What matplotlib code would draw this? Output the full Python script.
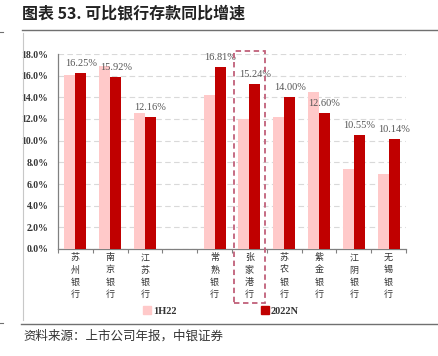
import numpy as np
import matplotlib
matplotlib.use("Agg")
import matplotlib.pyplot as plt
from matplotlib.patches import Rectangle
from matplotlib.lines import Line2D

plt.rcParams['font.family'] = ['Liberation Serif', 'Noto Sans CJK SC', 'DejaVu Sans']

categories = ['苏州银行', '南京银行', '江苏银行', '', '常熟银行', '张家港行', '苏农银行', '紫金银行', '江阴银行', '无锡银行']
h1_22 = [16.10, 16.90, 12.55, np.nan, 14.20, 12.00, 12.20, 14.50, 7.40, 6.95]
y2022 = [16.25, 15.92, 12.16, np.nan, 16.81, 15.24, 14.00, 12.60, 10.55, 10.14]
series_names = ['1H22', '2022N']
yticks = [0, 2, 4, 6, 8, 10, 12, 14, 16, 18]
highlight = '张家港行'

light = '#FFC9C9'
dark = '#C00000'

fig = plt.figure(figsize=(4.38, 3.56), dpi=100)
ax = fig.add_axes([58/438, 1-249/356, 348/438, 195/356])

x = np.arange(len(categories))
w = 0.316
ax.bar(x - w/2, h1_22, width=w, color=light, label=series_names[0], zorder=3)
ax.bar(x + w/2, y2022, width=w, color=dark, label=series_names[1], zorder=3)

for xi, v in zip(x, y2022):
    if np.isnan(v):
        continue
    ax.annotate(f'{v:.2f}%', (xi + w/2, v), xytext=(0, 3.5), textcoords='offset points',
                ha='center', va='bottom', fontsize=7.5, color='#555555',
                family=['Liberation Serif'], zorder=5)

ax.set_xlim(-0.5, len(categories) - 0.5)
ax.set_ylim(0, 18)
ax.set_yticks(yticks)
ax.set_yticklabels([f'{t:.1f}%' for t in yticks], fontsize=7, fontweight='bold', color='#333333')
ax.tick_params(axis='y', length=0, pad=7)
ax.yaxis.grid(True, color='#D9D9D9', linestyle=(0, (5, 3)), linewidth=0.8, zorder=0)
ax.set_axisbelow(True)

ax.set_xticks(x)
ax.set_xticklabels([])
ax.tick_params(axis='x', which='major', length=0)
ax.set_xticks(np.arange(-0.5, len(categories)), minor=True)
ax.tick_params(axis='x', which='minor', length=3, color='#808080', width=0.8)

for xi, c in zip(x, categories):
    if not c:
        continue
    ax.text(xi, -0.022, '\n'.join(c), transform=ax.get_xaxis_transform(), ha='center', va='top',
            fontsize=6.5, color='#333333', linespacing=1.45,
            family=['Noto Sans CJK SC'])

for s in ['top', 'right']:
    ax.spines[s].set_visible(False)
for s in ['left', 'bottom']:
    ax.spines[s].set_color('#808080')
    ax.spines[s].set_linewidth(0.9)

# highlight box
hi = categories.index(highlight)
rect = Rectangle((hi - 0.455, -0.277), 0.91, 1.015 + 0.277, transform=ax.get_xaxis_transform(),
                 fill=False, edgecolor='#C0607A', linestyle=(0, (3, 2)), linewidth=1.3,
                 clip_on=False, zorder=6)
ax.add_patch(rect)

# legend
handles = [Line2D([], [], marker='s', linestyle='', color=light, markersize=5.5),
           Line2D([], [], marker='s', linestyle='', color=dark, markersize=5.5)]
leg = fig.legend(handles, series_names, loc='center', bbox_to_anchor=(221/438, 1-311/356),
                 ncol=2, frameon=False, handlelength=0.8, handletextpad=0.2, columnspacing=8.0,
                 prop={'family': 'Liberation Serif', 'size': 7.5, 'weight': 'bold'})
for t in leg.get_texts():
    t.set_color('#333333')

# title and frame lines
fig.text(22/438, 1-13/356, '图表 53. 可比银行存款同比增速', ha='left', va='center',
         fontsize=11.5, fontweight='bold', color='#222222',
         family=['Noto Sans CJK SC', 'Liberation Serif'])
fig.add_artist(Line2D([22/438, 1], [1-29.5/356, 1-29.5/356], color='#707070', linewidth=1.0))
fig.add_artist(Line2D([23/438, 23/438], [1-33/356, 1-320/356], color='#C8C8C8', linewidth=0.8))
fig.add_artist(Line2D([21/438, 1], [1-324/356, 1-324/356], color='#707070', linewidth=1.0))
fig.add_artist(Line2D([0, 3/438], [1-32/356, 1-32/356], color='#707070', linewidth=0.8))
fig.add_artist(Line2D([0, 3/438], [1-323/356, 1-323/356], color='#707070', linewidth=0.8))
fig.text(23/438, 1-336/356, '资料来源：上市公司年报，中银证券', ha='left', va='center',
         fontsize=9, style='italic', color='#333333', family=['Noto Sans CJK SC'])

fig.savefig('out.png', dpi=100)
